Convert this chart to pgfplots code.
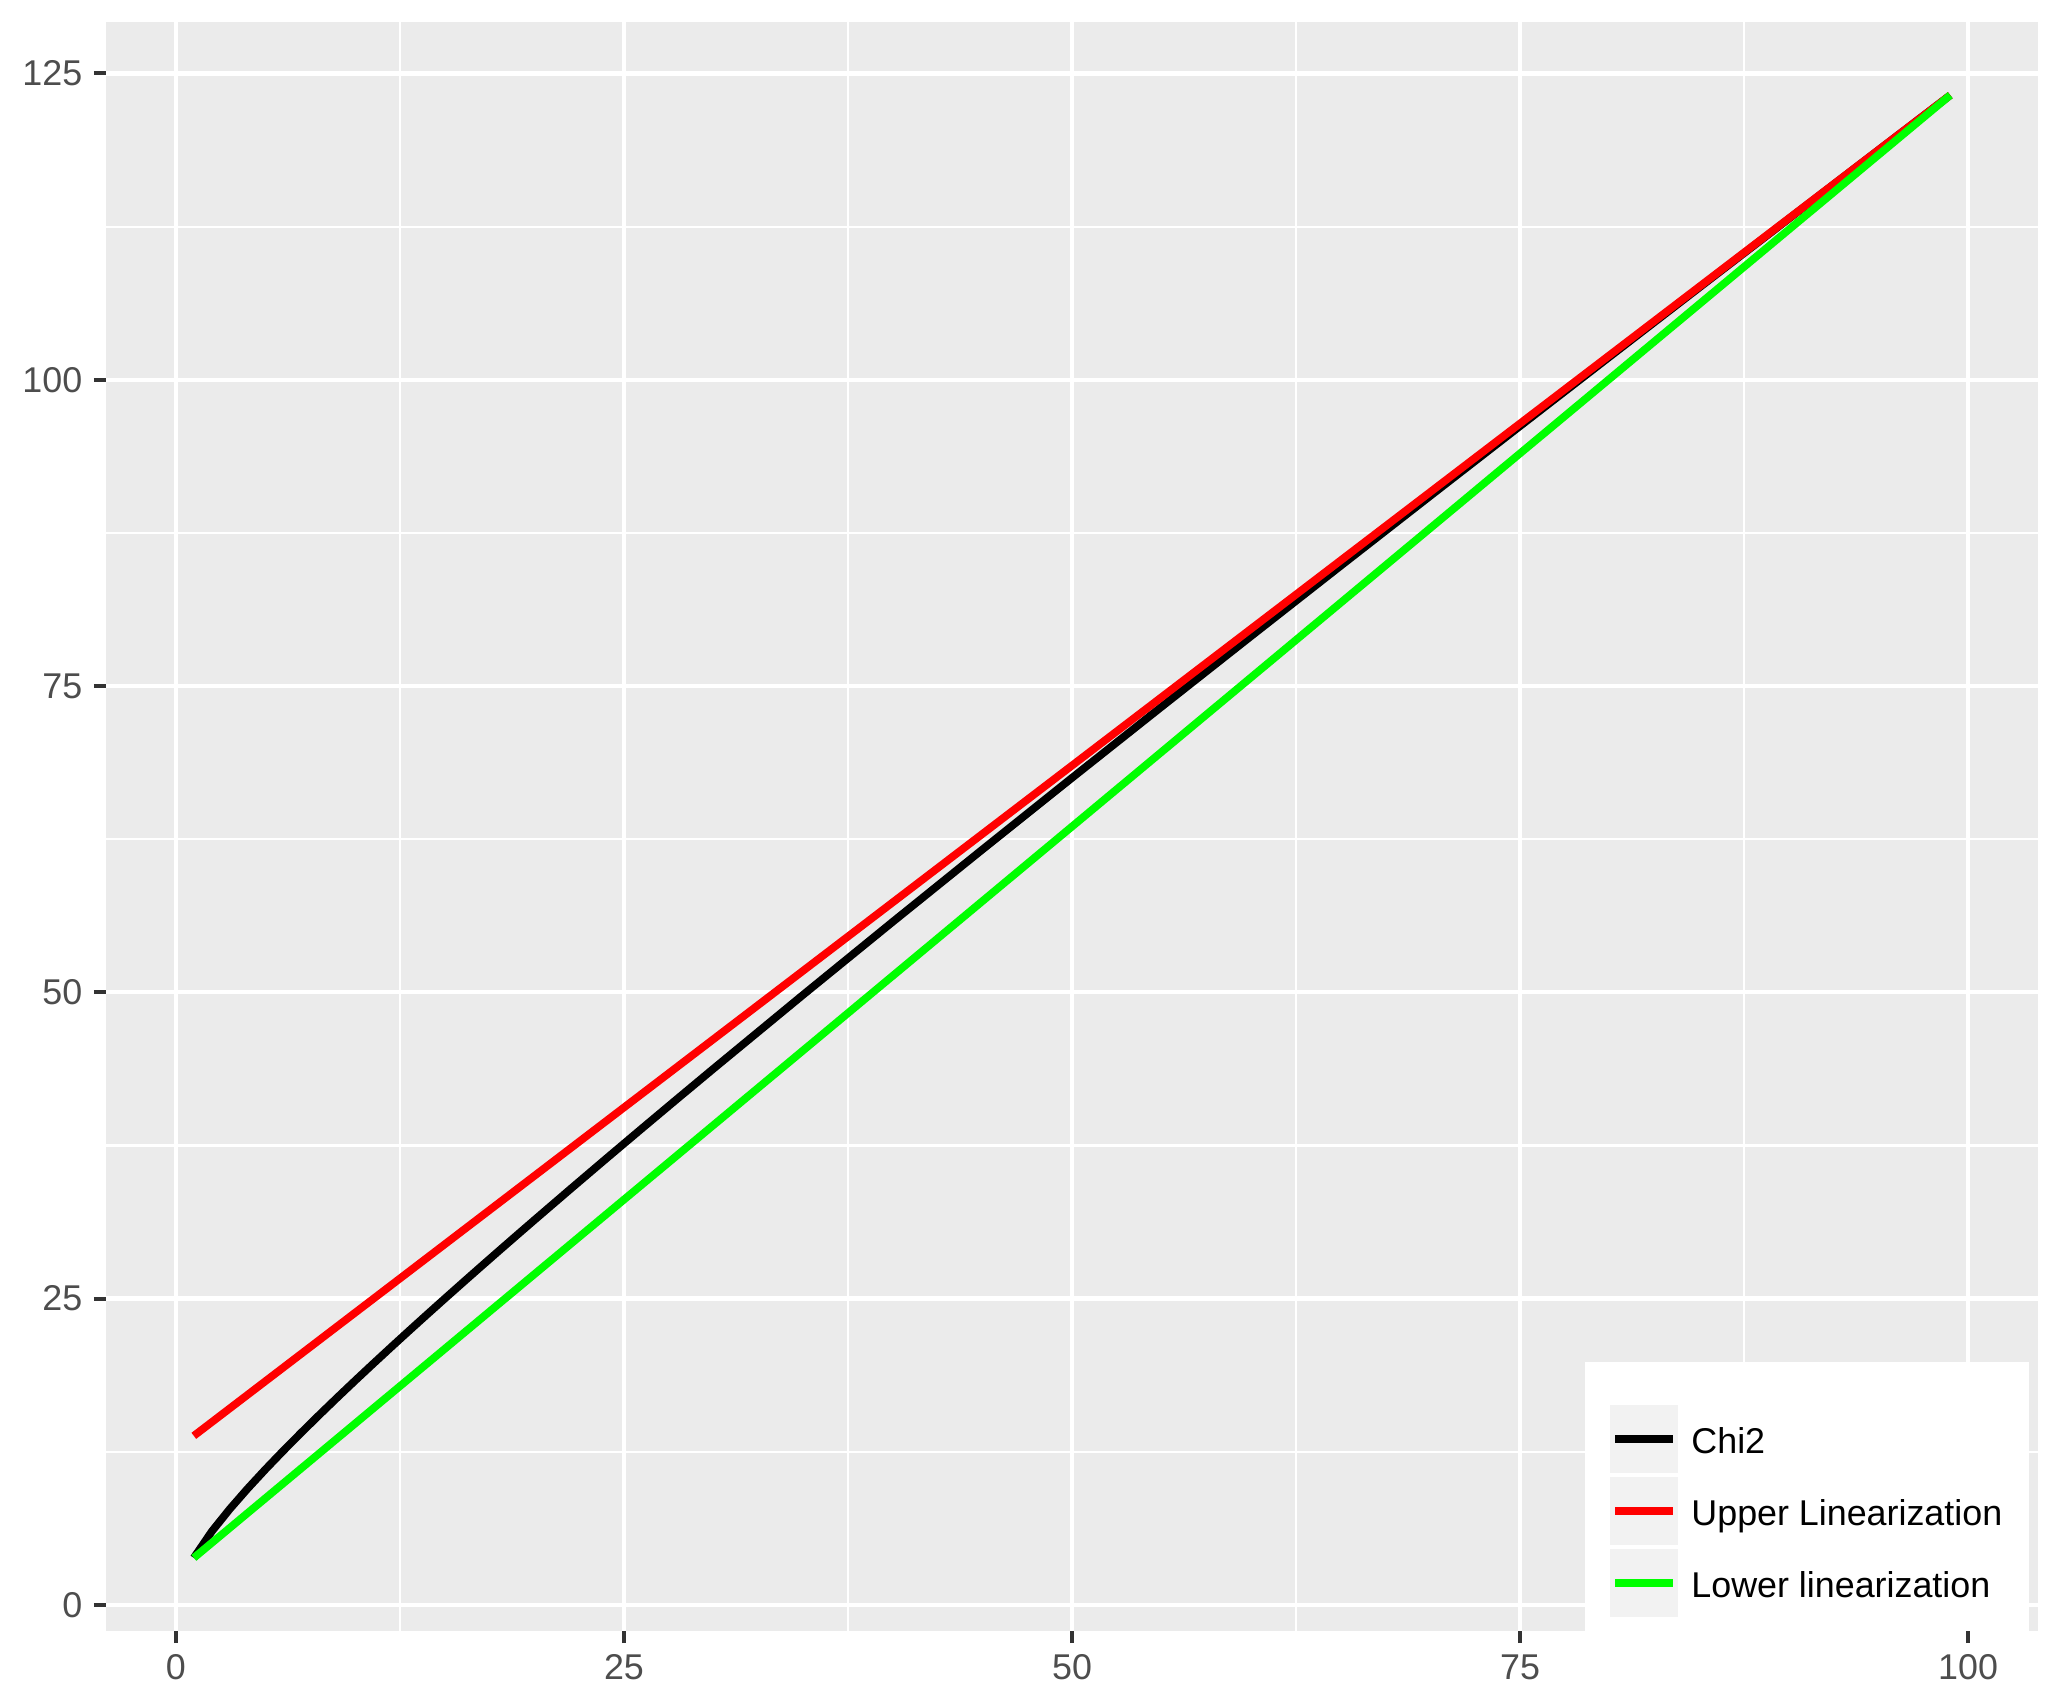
\documentclass[border=0pt]{standalone}
\usepackage{fontspec}
\setmainfont{Liberation Sans}
\usepackage{pgfplots}
\pgfplotsset{compat=1.18}
\definecolor{panelgray}{HTML}{EBEBEB}
\definecolor{keygray}{HTML}{F2F2F2}
\definecolor{ticktext}{HTML}{4D4D4D}
\definecolor{tickline}{HTML}{333333}
\definecolor{lingreen}{HTML}{00FF00}
\definecolor{linred}{HTML}{FF0000}

\begin{document}
\begin{tikzpicture}
\useasboundingbox (0,0) rectangle (20.62,17.03);
\begin{axis}[
    at={(1.06cm,0.72cm)}, anchor=south west,
    width=19.32cm, height=16.09cm, scale only axis,
    xmin=-3.9, xmax=103.9, ymin=-2.13, ymax=129.2,
    axis background/.style={fill=panelgray},
    axis line style={draw=none},
    xtick={0,25,50,75,100},
    ytick={0,25,50,75,100,125},
    minor xtick={12.5,37.5,62.5,87.5},
    minor ytick={12.5,37.5,62.5,87.5,112.5},
    grid=both,
    major grid style={white, line width=0.043cm},
    minor grid style={white, line width=0.021cm},
    tickpos=left, tick align=outside,
    major tick length=0.12cm, minor tick length=0pt,
    tick style={tickline, line width=0.04cm},
    /pgf/number format/assume math mode=true,
    ticklabel style={font=\fontsize{10.2}{12}\selectfont, text=ticktext, inner sep=0pt},
    yticklabel style={xshift=-0.11cm},
    xticklabel style={yshift=-0.11cm},
    every axis plot/.append style={line width=0.077cm, line join=round},
]
% Chi2 (0.95 quantile)
\addplot[black] coordinates {
(1,3.841) (2,5.991) (3,7.815) (4,9.488) (5,11.070) (6,12.592) (7,14.067)
(8,15.507) (9,16.919) (10,18.307) (11,19.675) (12,21.026) (13,22.362)
(14,23.685) (15,24.996) (16,26.296) (17,27.587) (18,28.869) (19,30.144)
(20,31.410) (22,33.924) (24,36.415) (26,38.885) (28,41.337) (30,43.773)
(35,49.802) (40,55.758) (45,61.656) (50,67.505) (55,73.311) (60,79.082)
(65,84.821) (70,90.531) (75,96.217) (80,101.879) (85,107.522) (90,113.145)
(95,118.752) (99,123.225)
};
% upper linearization
\addplot[linred] coordinates {
(1,13.80) (25,40.60) (50,68.51) (75,96.43) (99,123.225)
};
% lower linearization
\addplot[lingreen] coordinates {
(1,3.841) (25,33.08) (50,63.53) (75,93.99) (99,123.225)
};
\end{axis}
% legend
\fill[white] (15.85,0.72) rectangle (20.29,3.41);
\fill[keygray] (16.10,2.303) rectangle (16.78,2.98);
\fill[keygray] (16.10,1.58) rectangle (16.78,2.26);
\fill[keygray] (16.10,0.86) rectangle (16.78,1.54);
\draw[black, line width=0.077cm] (16.15,2.641) -- (16.73,2.641);
\draw[linred, line width=0.077cm] (16.15,1.92) -- (16.73,1.92);
\draw[lingreen, line width=0.077cm] (16.15,1.20) -- (16.73,1.20);
\begin{scope}[every node/.style={anchor=base west, inner sep=0pt, font=\fontsize{10.2}{12}\selectfont}]
\node at (16.907,2.50) {Chi2};
\node at (16.907,1.78) {Upper Linearization};
\node at (16.907,1.06) {Lower linearization};
\end{scope}
\end{tikzpicture}
\end{document}
